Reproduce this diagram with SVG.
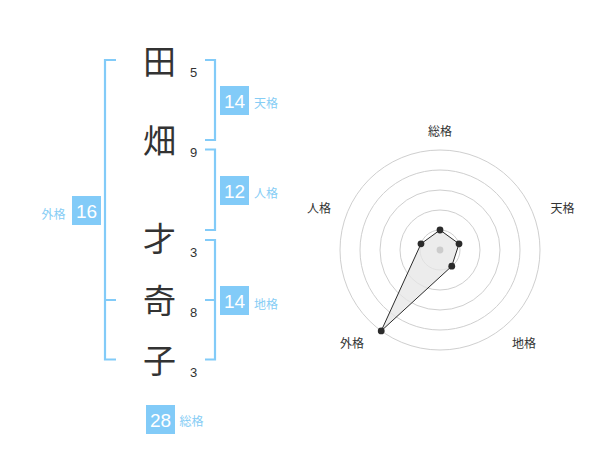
<svg xmlns="http://www.w3.org/2000/svg" width="600" height="470" viewBox="0 0 600 470">
<style>
.kanji{font-family:"Noto Sans CJK JP","Noto Sans CJK SC",sans-serif;font-size:33px;fill:#333;text-anchor:middle}
.num{font-family:"Liberation Sans",Arial,sans-serif;font-size:13px;fill:#333}
.br{fill:none;stroke:#82cbf8;stroke-width:2.2}
.box{fill:#82cbf8}
.bnum{font-family:"Liberation Sans",Arial,sans-serif;font-size:19px;fill:#fff;text-anchor:middle}
.blab{font-family:"Noto Sans CJK JP","Noto Sans CJK SC",sans-serif;font-size:12px;fill:#86cdf5}
.ring{fill:none;stroke:#cfcfcf;stroke-width:1}
.rlab{font-family:"Noto Sans CJK JP","Noto Sans CJK SC",sans-serif;font-size:12px;fill:#333;text-anchor:middle}
.pt{fill:#2b2b2b}
</style>
<rect width="600" height="470" fill="#fff"/>
<g id="name">
<text class="kanji" x="159.5" y="74">田</text>
<text class="kanji" x="159.5" y="152.5">畑</text>
<text class="kanji" x="159.5" y="250.5">才</text>
<text class="kanji" x="159.5" y="313">奇</text>
<text class="kanji" x="159.5" y="372.5">子</text>
<text class="num" x="190" y="77">5</text>
<text class="num" x="190" y="157">9</text>
<text class="num" x="190" y="257">3</text>
<text class="num" x="190" y="317">8</text>
<text class="num" x="190" y="377">3</text>
</g>
<g id="connectors">
<path class="br" d="M116,60 H105 V359.5 H116 M105,300 H116"/>
<path class="br" d="M205,60 H215 V140 H205"/>
<path class="br" d="M205,149.5 H215 V230 H205"/>
<path class="br" d="M205,240 H215 V359.5 H205 M205,300 H215"/>
</g>
<g id="tenkaku">
<rect class="box" x="220" y="86" width="29" height="29"/>
<text class="bnum" x="234.5" y="108">14</text>
<text class="blab" x="254" y="108.3">天格</text>
</g>
<g id="jinkaku">
<rect class="box" x="220" y="176" width="29" height="29"/>
<text class="bnum" x="234.5" y="198">12</text>
<text class="blab" x="254" y="197.8">人格</text>
</g>
<g id="chikaku">
<rect class="box" x="220" y="286" width="29" height="29"/>
<text class="bnum" x="234.5" y="308">14</text>
<text class="blab" x="254" y="308.5">地格</text>
</g>
<g id="gaikaku">
<rect class="box" x="72" y="196" width="29" height="29"/>
<text class="bnum" x="86.5" y="218">16</text>
<text class="blab" x="41.5" y="219.2">外格</text>
</g>
<g id="soukaku">
<rect class="box" x="146" y="405" width="29" height="29"/>
<text class="bnum" x="160.5" y="427">28</text>
<text class="blab" x="179.5" y="426.2">総格</text>
</g>
<g id="radar">
<circle class="ring" cx="440" cy="250" r="20"/>
<circle class="ring" cx="440" cy="250" r="40"/>
<circle class="ring" cx="440" cy="250" r="60"/>
<circle class="ring" cx="440" cy="250" r="80"/>
<circle class="ring" cx="440" cy="250" r="100"/>
<polygon points="440,230 459.02,243.82 451.76,266.18 381.22,330.9 420.98,243.82" fill="#e6e6e6" fill-opacity="0.75" stroke="#2b2b2b" stroke-width="1"/>
<circle cx="440" cy="250" r="3.4" fill="#cccccc"/>
<circle class="pt" cx="440" cy="230" r="3.4"/>
<circle class="pt" cx="459.02" cy="243.82" r="3.4"/>
<circle class="pt" cx="451.76" cy="266.18" r="3.4"/>
<circle class="pt" cx="381.22" cy="330.9" r="3.4"/>
<circle class="pt" cx="420.98" cy="243.82" r="3.4"/>
<text class="rlab" x="440" y="135.5">総格</text>
<text class="rlab" x="562.5" y="213">天格</text>
<text class="rlab" x="319" y="213">人格</text>
<text class="rlab" x="352" y="347.5">外格</text>
<text class="rlab" x="524" y="347.5">地格</text>
</g>
</svg>
